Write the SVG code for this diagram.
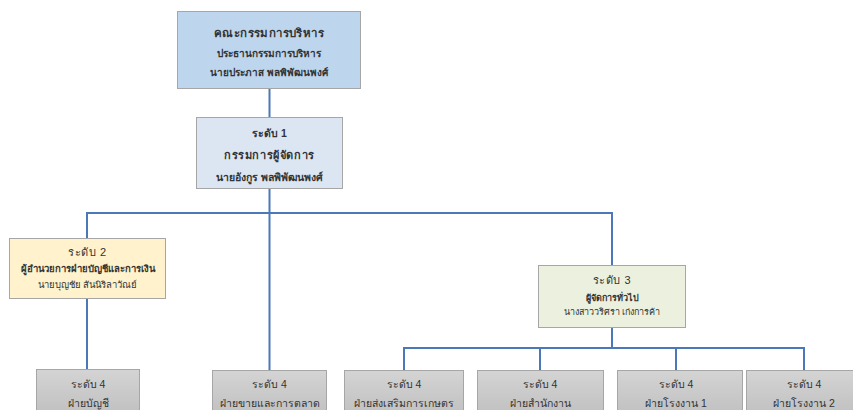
<svg xmlns="http://www.w3.org/2000/svg" width="853" height="410" viewBox="0 0 853 410">
<defs>
<linearGradient id="g4" x1="0" y1="0" x2="0" y2="1">
<stop offset="0" stop-color="#d4d4d4"/>
<stop offset="1" stop-color="#c0c0c0"/>
</linearGradient>
</defs>
<style>
.box{stroke:#a6a6a6;stroke-width:1}
.t{font-family:"Liberation Sans","Noto Sans","DejaVu Sans",sans-serif;font-size:10.5px;fill:#333;text-anchor:middle}
.b{font-weight:bold}
.s{font-size:9.5px}
.xs{font-size:9px}
.lv{font-size:11px;letter-spacing:0.5px}
.c{fill:none;stroke:#4a78b8;stroke-width:2}
</style>
<rect width="853" height="410" fill="#fff"/>
<g id="connectors">
<path class="c" d="M269.5 88V370"/>
<path class="c" d="M87 238V213H612V265"/>
<path class="c" d="M87 299V369"/>
<path class="c" d="M612 328V348"/>
<path class="c" d="M404 370V348H804V370"/>
<path class="c" d="M540 348V370"/>
<path class="c" d="M676 348V370"/>
</g>
<g id="board">
<rect class="box" x="177.5" y="11.5" width="183" height="77" fill="#bdd6ee"/>
<text class="t b" x="269" y="37" style="font-size:11.5px;letter-spacing:0.4px">คณะกรรมการบริหาร</text>
<text class="t b" x="269" y="57" style="font-size:10px">ประธานกรรมการบริหาร</text>
<text class="t b" x="269" y="76" style="font-size:10px">นายประภาส พลพิพัฒนพงศ์</text>
</g>
<g id="md">
<rect class="box" x="196.5" y="117.5" width="146" height="71" fill="#dce6f2"/>
<text class="t b" x="269.5" y="137">ระดับ 1</text>
<text class="t b" x="269.5" y="159" style="font-size:11px;letter-spacing:0.6px">กรรมการผู้จัดการ</text>
<text class="t b" x="269.5" y="181">นายอังกูร พลพิพัฒนพงศ์</text>
</g>
<g id="finance">
<rect class="box" x="9.5" y="238.5" width="156" height="60" fill="#fff2cc"/>
<text class="t lv" x="87.5" y="256">ระดับ 2</text>
<text class="t b s" x="87.5" y="272">ผู้อำนวยการฝ่ายบัญชีและการเงิน</text>
<text class="t s" x="87.5" y="288">นายบุญชัย สันนิริลาวัณย์</text>
</g>
<g id="gm">
<rect class="box" x="538.5" y="265.5" width="147" height="62" fill="#ebf1de"/>
<text class="t lv" x="612" y="284">ระดับ 3</text>
<text class="t b xs" x="612" y="301">ผู้จัดการทั่วไป</text>
<text class="t xs" x="612" y="315">นางสาววริศรา เก่งการค้า</text>
</g>
<g id="acc">
<rect class="box" x="36.5" y="369.5" width="103" height="45" fill="url(#g4)"/>
<text class="t" x="88" y="388">ระดับ 4</text>
<text class="t" x="88" y="407">ฝ่ายบัญชี</text>
</g>
<g id="sales">
<rect class="box" x="212.5" y="370.5" width="114" height="45" fill="url(#g4)"/>
<text class="t" x="269.5" y="388">ระดับ 4</text>
<text class="t" x="269.5" y="407">ฝ่ายขายและการตลาด</text>
</g>
<g id="agri">
<rect class="box" x="344.5" y="370.5" width="119" height="45" fill="url(#g4)"/>
<text class="t" x="404" y="388">ระดับ 4</text>
<text class="t" x="404" y="407">ฝ่ายส่งเสริมการเกษตร</text>
</g>
<g id="office">
<rect class="box" x="477.5" y="370.5" width="126" height="45" fill="url(#g4)"/>
<text class="t" x="540" y="388">ระดับ 4</text>
<text class="t" x="540" y="407">ฝ่ายสำนักงาน</text>
</g>
<g id="plant1">
<rect class="box" x="617.5" y="370.5" width="125" height="45" fill="url(#g4)"/>
<text class="t" x="676" y="388">ระดับ 4</text>
<text class="t" x="676" y="407">ฝ่ายโรงงาน 1</text>
</g>
<g id="plant2">
<rect class="box" x="746.5" y="370.5" width="126" height="45" fill="url(#g4)"/>
<text class="t" x="804" y="388">ระดับ 4</text>
<text class="t" x="804" y="407">ฝ่ายโรงงาน 2</text>
</g>
</svg>
